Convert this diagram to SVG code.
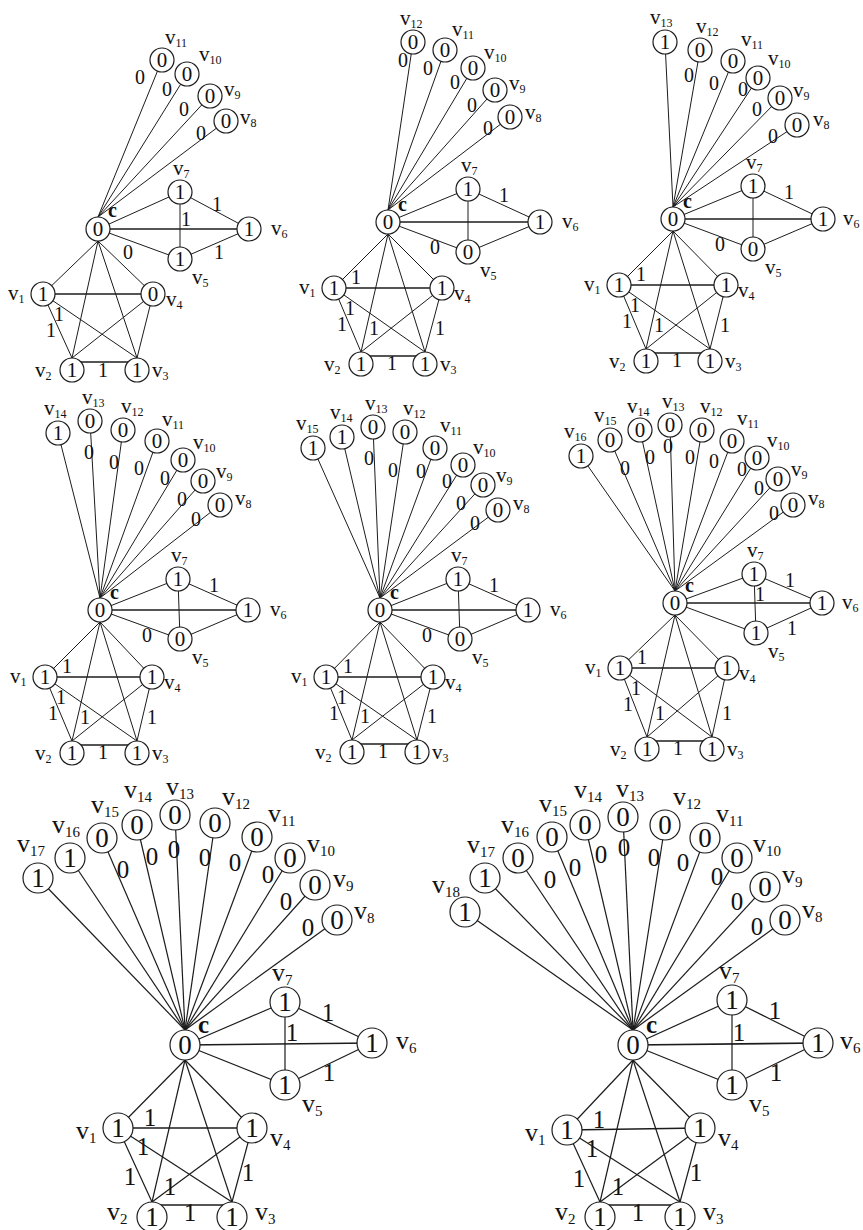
<svg xmlns="http://www.w3.org/2000/svg" width="863" height="1230" viewBox="0 0 863 1230">
<style>
.e line{stroke:#1c1c1c;stroke-width:1;fill:none}
.e2 line{stroke:#1c1c1c;stroke-width:1.2;fill:none}
.e line.b,.e2 line.b{stroke-width:1.7}
.n{fill:#fff;stroke:#1c1c1c;stroke-width:1.2}
text{font-family:"Liberation Serif","Times New Roman",serif;fill:#111}
.d{font-size:21px;text-anchor:middle}
.D{font-size:27px;text-anchor:middle}
.w{font-size:20px;text-anchor:middle}
.W{font-size:25px;text-anchor:middle}
.l{font-size:21px}
.L{font-size:26px}
.s{font-size:12px}
.S{font-size:15px}
.c{font-size:20px;font-weight:bold}
.C{font-size:25px;font-weight:bold}
</style>
<rect width="863" height="1230" fill="#fff"/>

<!-- ===== Panel 1 ===== -->
<g id="panel1">
<g id="p1-edges" class="e">
<line x1="162" y1="60" x2="98" y2="217"/><line x1="187" y1="74" x2="98" y2="217"/><line x1="210" y1="96" x2="98" y2="217"/><line x1="226" y1="121" x2="98" y2="217"/>
<line x1="98" y1="229" x2="180" y2="192"/><line class="b" x1="98" y1="229" x2="249" y2="229"/><line x1="98" y1="229" x2="180" y2="259"/>
<line x1="180" y1="192" x2="180" y2="259"/><line x1="180" y1="192" x2="249" y2="229"/><line x1="180" y1="259" x2="249" y2="229"/>
<line x1="98" y1="241" x2="43" y2="294"/><line x1="98" y1="241" x2="153" y2="294"/><line x1="98" y1="241" x2="72" y2="358"/><line x1="98" y1="241" x2="137" y2="358"/>
<line class="b" x1="43" y1="294" x2="153" y2="294"/><line x1="43" y1="294" x2="72" y2="358"/><line x1="43" y1="294" x2="137" y2="358"/><line x1="153" y1="294" x2="72" y2="358"/><line x1="153" y1="294" x2="137" y2="358"/>
<line class="b" x1="72" y1="362" x2="137" y2="362"/>
</g>
<g id="p1-weights">
<text class="w" x="140" y="84">0</text><text class="w" x="167" y="96">0</text><text class="w" x="184" y="116">0</text><text class="w" x="201" y="140">0</text>
<text class="w" x="186" y="226">1</text><text class="w" x="217" y="211">1</text><text class="w" x="219" y="259">1</text><text class="w" x="128" y="259">0</text>
<text class="w" x="59" y="321">1</text><text class="w" x="51" y="337">1</text><text class="w" x="103" y="377">1</text>
</g>
<g id="p1-c"><circle class="n" cx="98" cy="229" r="12"/><text class="d" x="98" y="236">0</text><text class="c" x="108" y="217">c</text></g>
<g id="p1-v1"><circle class="n" cx="43" cy="294" r="12"/><text class="d" x="43" y="301">1</text><text class="l" x="8" y="300">v<tspan class="s" dy="3">1</tspan></text></g>
<g id="p1-v2"><circle class="n" cx="72" cy="370" r="12"/><text class="d" x="72" y="377">1</text><text class="l" x="35" y="377">v<tspan class="s" dy="3">2</tspan></text></g>
<g id="p1-v3"><circle class="n" cx="137" cy="370" r="12"/><text class="d" x="137" y="377">1</text><text class="l" x="152" y="377">v<tspan class="s" dy="3">3</tspan></text></g>
<g id="p1-v4"><circle class="n" cx="153" cy="294" r="12"/><text class="d" x="153" y="301">0</text><text class="l" x="166" y="306">v<tspan class="s" dy="3">4</tspan></text></g>
<g id="p1-v5"><circle class="n" cx="180" cy="259" r="12"/><text class="d" x="180" y="266">1</text><text class="l" x="192" y="284">v<tspan class="s" dy="3">5</tspan></text></g>
<g id="p1-v6"><circle class="n" cx="249" cy="229" r="12"/><text class="d" x="249" y="236">1</text><text class="l" x="271" y="235">v<tspan class="s" dy="3">6</tspan></text></g>
<g id="p1-v7"><circle class="n" cx="180" cy="192" r="12"/><text class="d" x="180" y="199">1</text><text class="l" x="173" y="175">v<tspan class="s" dy="3">7</tspan></text></g>
<g id="p1-v8"><circle class="n" cx="226" cy="121" r="12"/><text class="d" x="226" y="128">0</text><text class="l" x="240" y="124">v<tspan class="s" dy="3">8</tspan></text></g>
<g id="p1-v9"><circle class="n" cx="210" cy="96" r="12"/><text class="d" x="210" y="103">0</text><text class="l" x="224" y="96">v<tspan class="s" dy="3">9</tspan></text></g>
<g id="p1-v10"><circle class="n" cx="187" cy="74" r="12"/><text class="d" x="187" y="81">0</text><text class="l" x="199" y="61">v<tspan class="s" dy="3">10</tspan></text></g>
<g id="p1-v11"><circle class="n" cx="162" cy="60" r="12"/><text class="d" x="162" y="67">0</text><text class="l" x="165" y="44">v<tspan class="s" dy="3">11</tspan></text></g>
</g>

<!-- ===== Panel 2 ===== -->
<g id="panel2">
<g id="p2-edges" class="e">
<line x1="413" y1="42" x2="388" y2="210"/><line x1="445" y1="50" x2="388" y2="210"/><line x1="473" y1="68" x2="388" y2="210"/><line x1="495" y1="90" x2="388" y2="210"/><line x1="510" y1="117" x2="388" y2="210"/>
<line x1="388" y1="222" x2="468" y2="189"/><line class="b" x1="388" y1="222" x2="540" y2="222"/><line x1="388" y1="222" x2="468" y2="252"/>
<line x1="468" y1="189" x2="468" y2="252"/><line x1="468" y1="189" x2="540" y2="222"/><line x1="468" y1="252" x2="540" y2="222"/>
<line x1="388" y1="234" x2="334" y2="288"/><line x1="388" y1="234" x2="442" y2="288"/><line x1="388" y1="234" x2="361" y2="352"/><line x1="388" y1="234" x2="425" y2="352"/>
<line class="b" x1="334" y1="288" x2="442" y2="288"/><line x1="334" y1="288" x2="361" y2="352"/><line x1="334" y1="288" x2="425" y2="352"/><line x1="442" y1="288" x2="361" y2="352"/><line x1="442" y1="288" x2="425" y2="352"/>
<line class="b" x1="361" y1="356" x2="425" y2="356"/>
</g>
<g id="p2-weights">
<text class="w" x="403" y="67">0</text><text class="w" x="428" y="75">0</text><text class="w" x="455" y="89">0</text><text class="w" x="472" y="112">0</text><text class="w" x="488" y="135">0</text>
<text class="w" x="435" y="254">0</text><text class="w" x="504" y="202">1</text>
<text class="w" x="356" y="284">1</text><text class="w" x="350" y="315">1</text><text class="w" x="342" y="331">1</text><text class="w" x="374" y="335">1</text><text class="w" x="440" y="335">1</text><text class="w" x="392" y="370">1</text>
</g>
<g id="p2-c"><circle class="n" cx="388" cy="222" r="12"/><text class="d" x="388" y="229">0</text><text class="c" x="398" y="211">c</text></g>
<g id="p2-v1"><circle class="n" cx="334" cy="288" r="12"/><text class="d" x="334" y="295">1</text><text class="l" x="299" y="294">v<tspan class="s" dy="3">1</tspan></text></g>
<g id="p2-v2"><circle class="n" cx="361" cy="364" r="12"/><text class="d" x="361" y="371">1</text><text class="l" x="324" y="371">v<tspan class="s" dy="3">2</tspan></text></g>
<g id="p2-v3"><circle class="n" cx="425" cy="364" r="12"/><text class="d" x="425" y="371">1</text><text class="l" x="440" y="371">v<tspan class="s" dy="3">3</tspan></text></g>
<g id="p2-v4"><circle class="n" cx="442" cy="288" r="12"/><text class="d" x="442" y="295">1</text><text class="l" x="454" y="300">v<tspan class="s" dy="3">4</tspan></text></g>
<g id="p2-v5"><circle class="n" cx="468" cy="252" r="12"/><text class="d" x="468" y="259">0</text><text class="l" x="480" y="277">v<tspan class="s" dy="3">5</tspan></text></g>
<g id="p2-v6"><circle class="n" cx="540" cy="222" r="12"/><text class="d" x="540" y="229">1</text><text class="l" x="562" y="228">v<tspan class="s" dy="3">6</tspan></text></g>
<g id="p2-v7"><circle class="n" cx="468" cy="189" r="12"/><text class="d" x="468" y="196">1</text><text class="l" x="461" y="172">v<tspan class="s" dy="3">7</tspan></text></g>
<g id="p2-v8"><circle class="n" cx="510" cy="117" r="12"/><text class="d" x="510" y="124">0</text><text class="l" x="525" y="119">v<tspan class="s" dy="3">8</tspan></text></g>
<g id="p2-v9"><circle class="n" cx="495" cy="90" r="12"/><text class="d" x="495" y="97">0</text><text class="l" x="509" y="90">v<tspan class="s" dy="3">9</tspan></text></g>
<g id="p2-v10"><circle class="n" cx="473" cy="68" r="12"/><text class="d" x="473" y="75">0</text><text class="l" x="484" y="59">v<tspan class="s" dy="3">10</tspan></text></g>
<g id="p2-v11"><circle class="n" cx="445" cy="50" r="12"/><text class="d" x="445" y="57">0</text><text class="l" x="452" y="36">v<tspan class="s" dy="3">11</tspan></text></g>
<g id="p2-v12"><circle class="n" cx="413" cy="42" r="12"/><text class="d" x="413" y="49">0</text><text class="l" x="400" y="25">v<tspan class="s" dy="3">12</tspan></text></g>
</g>

<!-- ===== Panel 3 ===== -->
<g id="panel3">
<g id="p3-edges" class="e">
<line x1="665" y1="42" x2="673" y2="207"/><line x1="700" y1="50" x2="673" y2="207"/><line x1="733" y1="61" x2="673" y2="207"/><line x1="758" y1="78" x2="673" y2="207"/><line x1="780" y1="98" x2="673" y2="207"/><line x1="797" y1="125" x2="673" y2="207"/>
<line x1="673" y1="219" x2="753" y2="186"/><line class="b" x1="673" y1="219" x2="823" y2="219"/><line x1="673" y1="219" x2="753" y2="249"/>
<line x1="753" y1="186" x2="753" y2="249"/><line x1="753" y1="186" x2="823" y2="219"/><line x1="753" y1="249" x2="823" y2="219"/>
<line x1="673" y1="231" x2="619" y2="285"/><line x1="673" y1="231" x2="726" y2="285"/><line x1="673" y1="231" x2="646" y2="349"/><line x1="673" y1="231" x2="710" y2="349"/>
<line class="b" x1="619" y1="285" x2="726" y2="285"/><line x1="619" y1="285" x2="646" y2="349"/><line x1="619" y1="285" x2="710" y2="349"/><line x1="726" y1="285" x2="646" y2="349"/><line x1="726" y1="285" x2="710" y2="349"/>
<line class="b" x1="646" y1="353" x2="710" y2="353"/>
</g>
<g id="p3-weights">
<text class="w" x="689" y="82">0</text><text class="w" x="714" y="90">0</text><text class="w" x="743" y="96">0</text><text class="w" x="757" y="116">0</text><text class="w" x="773" y="143">0</text>
<text class="w" x="720" y="251">0</text><text class="w" x="789" y="199">1</text>
<text class="w" x="641" y="281">1</text><text class="w" x="635" y="312">1</text><text class="w" x="627" y="328">1</text><text class="w" x="659" y="332">1</text><text class="w" x="725" y="332">1</text><text class="w" x="677" y="367">1</text>
</g>
<g id="p3-c"><circle class="n" cx="673" cy="219" r="12"/><text class="d" x="673" y="226">0</text><text class="c" x="683" y="208">c</text></g>
<g id="p3-v1"><circle class="n" cx="619" cy="285" r="12"/><text class="d" x="619" y="292">1</text><text class="l" x="584" y="291">v<tspan class="s" dy="3">1</tspan></text></g>
<g id="p3-v2"><circle class="n" cx="646" cy="361" r="12"/><text class="d" x="646" y="368">1</text><text class="l" x="609" y="368">v<tspan class="s" dy="3">2</tspan></text></g>
<g id="p3-v3"><circle class="n" cx="710" cy="361" r="12"/><text class="d" x="710" y="368">1</text><text class="l" x="725" y="368">v<tspan class="s" dy="3">3</tspan></text></g>
<g id="p3-v4"><circle class="n" cx="726" cy="285" r="12"/><text class="d" x="726" y="292">1</text><text class="l" x="738" y="297">v<tspan class="s" dy="3">4</tspan></text></g>
<g id="p3-v5"><circle class="n" cx="753" cy="249" r="12"/><text class="d" x="753" y="256">0</text><text class="l" x="765" y="274">v<tspan class="s" dy="3">5</tspan></text></g>
<g id="p3-v6"><circle class="n" cx="823" cy="219" r="12"/><text class="d" x="823" y="226">1</text><text class="l" x="843" y="225">v<tspan class="s" dy="3">6</tspan></text></g>
<g id="p3-v7"><circle class="n" cx="753" cy="186" r="12"/><text class="d" x="753" y="193">1</text><text class="l" x="746" y="169">v<tspan class="s" dy="3">7</tspan></text></g>
<g id="p3-v8"><circle class="n" cx="797" cy="125" r="12"/><text class="d" x="797" y="132">0</text><text class="l" x="813" y="126">v<tspan class="s" dy="3">8</tspan></text></g>
<g id="p3-v9"><circle class="n" cx="780" cy="98" r="12"/><text class="d" x="780" y="105">0</text><text class="l" x="793" y="97">v<tspan class="s" dy="3">9</tspan></text></g>
<g id="p3-v10"><circle class="n" cx="758" cy="78" r="12"/><text class="d" x="758" y="85">0</text><text class="l" x="768" y="65">v<tspan class="s" dy="3">10</tspan></text></g>
<g id="p3-v11"><circle class="n" cx="733" cy="61" r="12"/><text class="d" x="733" y="68">0</text><text class="l" x="741" y="46">v<tspan class="s" dy="3">11</tspan></text></g>
<g id="p3-v12"><circle class="n" cx="700" cy="50" r="12"/><text class="d" x="700" y="57">0</text><text class="l" x="696" y="33">v<tspan class="s" dy="3">12</tspan></text></g>
<g id="p3-v13"><circle class="n" cx="665" cy="42" r="12"/><text class="d" x="665" y="49">1</text><text class="l" x="650" y="24">v<tspan class="s" dy="3">13</tspan></text></g>
</g>

<!-- ===== Panel 4 ===== -->
<g id="panel4">
<g id="p4-edges" class="e">
<line x1="58" y1="433" x2="100" y2="598"/><line x1="90" y1="421" x2="100" y2="598"/><line x1="123" y1="430" x2="100" y2="598"/><line x1="157" y1="441" x2="100" y2="598"/><line x1="183" y1="460" x2="100" y2="598"/><line x1="203" y1="481" x2="100" y2="598"/><line x1="220" y1="505" x2="100" y2="598"/>
<line x1="100" y1="610" x2="178" y2="579"/><line class="b" x1="100" y1="610" x2="248" y2="610"/><line x1="100" y1="610" x2="180" y2="639"/>
<line x1="178" y1="579" x2="180" y2="639"/><line x1="178" y1="579" x2="248" y2="610"/><line x1="180" y1="639" x2="248" y2="610"/>
<line x1="100" y1="622" x2="45" y2="677"/><line x1="100" y1="622" x2="152" y2="677"/><line x1="100" y1="622" x2="72" y2="741"/><line x1="100" y1="622" x2="137" y2="741"/>
<line class="b" x1="45" y1="677" x2="152" y2="677"/><line x1="45" y1="677" x2="72" y2="741"/><line x1="45" y1="677" x2="137" y2="741"/><line x1="152" y1="677" x2="72" y2="741"/><line x1="152" y1="677" x2="137" y2="741"/>
<line class="b" x1="72" y1="745" x2="137" y2="745"/>
</g>
<g id="p4-weights">
<text class="w" x="89" y="459">0</text><text class="w" x="114" y="469">0</text><text class="w" x="139" y="475">0</text><text class="w" x="165" y="485">0</text><text class="w" x="182" y="506">0</text><text class="w" x="196" y="526">0</text>
<text class="w" x="147" y="642">0</text><text class="w" x="214" y="592">1</text>
<text class="w" x="67" y="673">1</text><text class="w" x="61" y="704">1</text><text class="w" x="53" y="720">1</text><text class="w" x="85" y="724">1</text><text class="w" x="152" y="724">1</text><text class="w" x="103" y="759">1</text>
</g>
<g id="p4-c"><circle class="n" cx="100" cy="610" r="12"/><text class="d" x="100" y="617">0</text><text class="c" x="110" y="599">c</text></g>
<g id="p4-v1"><circle class="n" cx="45" cy="677" r="12"/><text class="d" x="45" y="684">1</text><text class="l" x="10" y="683">v<tspan class="s" dy="3">1</tspan></text></g>
<g id="p4-v2"><circle class="n" cx="72" cy="753" r="12"/><text class="d" x="72" y="760">1</text><text class="l" x="35" y="760">v<tspan class="s" dy="3">2</tspan></text></g>
<g id="p4-v3"><circle class="n" cx="137" cy="753" r="12"/><text class="d" x="137" y="760">1</text><text class="l" x="152" y="760">v<tspan class="s" dy="3">3</tspan></text></g>
<g id="p4-v4"><circle class="n" cx="152" cy="677" r="12"/><text class="d" x="152" y="684">1</text><text class="l" x="164" y="689">v<tspan class="s" dy="3">4</tspan></text></g>
<g id="p4-v5"><circle class="n" cx="180" cy="639" r="12"/><text class="d" x="180" y="646">0</text><text class="l" x="192" y="664">v<tspan class="s" dy="3">5</tspan></text></g>
<g id="p4-v6"><circle class="n" cx="248" cy="610" r="12"/><text class="d" x="248" y="617">1</text><text class="l" x="270" y="616">v<tspan class="s" dy="3">6</tspan></text></g>
<g id="p4-v7"><circle class="n" cx="178" cy="579" r="12"/><text class="d" x="178" y="586">1</text><text class="l" x="171" y="562">v<tspan class="s" dy="3">7</tspan></text></g>
<g id="p4-v8"><circle class="n" cx="220" cy="505" r="12"/><text class="d" x="220" y="512">0</text><text class="l" x="235" y="505">v<tspan class="s" dy="3">8</tspan></text></g>
<g id="p4-v9"><circle class="n" cx="203" cy="481" r="12"/><text class="d" x="203" y="488">0</text><text class="l" x="216" y="478">v<tspan class="s" dy="3">9</tspan></text></g>
<g id="p4-v10"><circle class="n" cx="183" cy="460" r="12"/><text class="d" x="183" y="467">0</text><text class="l" x="193" y="449">v<tspan class="s" dy="3">10</tspan></text></g>
<g id="p4-v11"><circle class="n" cx="157" cy="441" r="12"/><text class="d" x="157" y="448">0</text><text class="l" x="162" y="426">v<tspan class="s" dy="3">11</tspan></text></g>
<g id="p4-v12"><circle class="n" cx="123" cy="430" r="12"/><text class="d" x="123" y="437">0</text><text class="l" x="121" y="413">v<tspan class="s" dy="3">12</tspan></text></g>
<g id="p4-v13"><circle class="n" cx="90" cy="421" r="12"/><text class="d" x="90" y="428">0</text><text class="l" x="82" y="404">v<tspan class="s" dy="3">13</tspan></text></g>
<g id="p4-v14"><circle class="n" cx="58" cy="433" r="12"/><text class="d" x="58" y="440">1</text><text class="l" x="44" y="415">v<tspan class="s" dy="3">14</tspan></text></g>
</g>

<!-- ===== Panel 5 ===== -->
<g id="panel5">
<g id="p5-edges" class="e">
<line x1="313" y1="448" x2="380" y2="598"/><line x1="342" y1="437" x2="380" y2="598"/><line x1="373" y1="427" x2="380" y2="598"/><line x1="405" y1="432" x2="380" y2="598"/><line x1="435" y1="448" x2="380" y2="598"/><line x1="463" y1="465" x2="380" y2="598"/><line x1="483" y1="485" x2="380" y2="598"/><line x1="498" y1="510" x2="380" y2="598"/>
<line x1="380" y1="610" x2="458" y2="579"/><line class="b" x1="380" y1="610" x2="528" y2="610"/><line x1="380" y1="610" x2="460" y2="639"/>
<line x1="458" y1="579" x2="460" y2="639"/><line x1="458" y1="579" x2="528" y2="610"/><line x1="460" y1="639" x2="528" y2="610"/>
<line x1="380" y1="622" x2="326" y2="677"/><line x1="380" y1="622" x2="433" y2="677"/><line x1="380" y1="622" x2="352" y2="740"/><line x1="380" y1="622" x2="417" y2="740"/>
<line class="b" x1="326" y1="677" x2="433" y2="677"/><line x1="326" y1="677" x2="352" y2="740"/><line x1="326" y1="677" x2="417" y2="740"/><line x1="433" y1="677" x2="352" y2="740"/><line x1="433" y1="677" x2="417" y2="740"/>
<line class="b" x1="352" y1="744" x2="417" y2="744"/>
</g>
<g id="p5-weights">
<text class="w" x="369" y="465">0</text><text class="w" x="393" y="477">0</text><text class="w" x="421" y="478">0</text><text class="w" x="447" y="488">0</text><text class="w" x="461" y="510">0</text><text class="w" x="475" y="530">0</text>
<text class="w" x="427" y="642">0</text><text class="w" x="494" y="592">1</text>
<text class="w" x="348" y="673">1</text><text class="w" x="342" y="704">1</text><text class="w" x="334" y="720">1</text><text class="w" x="365" y="723">1</text><text class="w" x="432" y="723">1</text><text class="w" x="383" y="758">1</text>
</g>
<g id="p5-c"><circle class="n" cx="380" cy="610" r="12"/><text class="d" x="380" y="617">0</text><text class="c" x="390" y="599">c</text></g>
<g id="p5-v1"><circle class="n" cx="326" cy="677" r="12"/><text class="d" x="326" y="684">1</text><text class="l" x="291" y="683">v<tspan class="s" dy="3">1</tspan></text></g>
<g id="p5-v2"><circle class="n" cx="352" cy="752" r="12"/><text class="d" x="352" y="759">1</text><text class="l" x="315" y="759">v<tspan class="s" dy="3">2</tspan></text></g>
<g id="p5-v3"><circle class="n" cx="417" cy="752" r="12"/><text class="d" x="417" y="759">1</text><text class="l" x="432" y="759">v<tspan class="s" dy="3">3</tspan></text></g>
<g id="p5-v4"><circle class="n" cx="433" cy="677" r="12"/><text class="d" x="433" y="684">1</text><text class="l" x="445" y="689">v<tspan class="s" dy="3">4</tspan></text></g>
<g id="p5-v5"><circle class="n" cx="460" cy="639" r="12"/><text class="d" x="460" y="646">0</text><text class="l" x="472" y="664">v<tspan class="s" dy="3">5</tspan></text></g>
<g id="p5-v6"><circle class="n" cx="528" cy="610" r="12"/><text class="d" x="528" y="617">1</text><text class="l" x="550" y="616">v<tspan class="s" dy="3">6</tspan></text></g>
<g id="p5-v7"><circle class="n" cx="458" cy="579" r="12"/><text class="d" x="458" y="586">1</text><text class="l" x="451" y="562">v<tspan class="s" dy="3">7</tspan></text></g>
<g id="p5-v8"><circle class="n" cx="498" cy="510" r="12"/><text class="d" x="498" y="517">0</text><text class="l" x="513" y="510">v<tspan class="s" dy="3">8</tspan></text></g>
<g id="p5-v9"><circle class="n" cx="483" cy="485" r="12"/><text class="d" x="483" y="492">0</text><text class="l" x="496" y="482">v<tspan class="s" dy="3">9</tspan></text></g>
<g id="p5-v10"><circle class="n" cx="463" cy="465" r="12"/><text class="d" x="463" y="472">0</text><text class="l" x="473" y="454">v<tspan class="s" dy="3">10</tspan></text></g>
<g id="p5-v11"><circle class="n" cx="435" cy="448" r="12"/><text class="d" x="435" y="455">0</text><text class="l" x="440" y="432">v<tspan class="s" dy="3">11</tspan></text></g>
<g id="p5-v12"><circle class="n" cx="405" cy="432" r="12"/><text class="d" x="405" y="439">0</text><text class="l" x="403" y="415">v<tspan class="s" dy="3">12</tspan></text></g>
<g id="p5-v13"><circle class="n" cx="373" cy="427" r="12"/><text class="d" x="373" y="434">0</text><text class="l" x="365" y="410">v<tspan class="s" dy="3">13</tspan></text></g>
<g id="p5-v14"><circle class="n" cx="342" cy="437" r="12"/><text class="d" x="342" y="444">1</text><text class="l" x="330" y="419">v<tspan class="s" dy="3">14</tspan></text></g>
<g id="p5-v15"><circle class="n" cx="313" cy="448" r="12"/><text class="d" x="313" y="455">1</text><text class="l" x="296" y="430">v<tspan class="s" dy="3">15</tspan></text></g>
</g>

<!-- ===== Panel 6 ===== -->
<g id="panel6">
<g id="p6-edges" class="e">
<line x1="581" y1="456" x2="675" y2="591"/><line x1="610" y1="440" x2="675" y2="591"/><line x1="640" y1="430" x2="675" y2="591"/><line x1="670" y1="425" x2="675" y2="591"/><line x1="702" y1="430" x2="675" y2="591"/><line x1="732" y1="441" x2="675" y2="591"/><line x1="757" y1="458" x2="675" y2="591"/><line x1="778" y1="479" x2="675" y2="591"/><line x1="793" y1="505" x2="675" y2="591"/>
<line x1="675" y1="603" x2="754" y2="574"/><line class="b" x1="675" y1="603" x2="822" y2="603"/><line x1="675" y1="603" x2="756" y2="633"/>
<line x1="754" y1="574" x2="756" y2="633"/><line x1="754" y1="574" x2="822" y2="603"/><line x1="756" y1="633" x2="822" y2="603"/>
<line x1="675" y1="615" x2="620" y2="668"/><line x1="675" y1="615" x2="727" y2="668"/><line x1="675" y1="615" x2="647" y2="737"/><line x1="675" y1="615" x2="712" y2="737"/>
<line class="b" x1="620" y1="668" x2="727" y2="668"/><line x1="620" y1="668" x2="647" y2="737"/><line x1="620" y1="668" x2="712" y2="737"/><line x1="727" y1="668" x2="647" y2="737"/><line x1="727" y1="668" x2="712" y2="737"/>
<line class="b" x1="647" y1="741" x2="712" y2="741"/>
</g>
<g id="p6-weights">
<text class="w" x="625" y="475">0</text><text class="w" x="650" y="464">0</text><text class="w" x="668" y="453">0</text><text class="w" x="690" y="464">0</text><text class="w" x="714" y="468">0</text><text class="w" x="742" y="476">0</text><text class="w" x="759" y="495">0</text><text class="w" x="774" y="520">0</text>
<text class="w" x="760" y="601">1</text><text class="w" x="790" y="587">1</text><text class="w" x="792" y="635">1</text>
<text class="w" x="642" y="664">1</text><text class="w" x="636" y="695">1</text><text class="w" x="628" y="711">1</text><text class="w" x="660" y="720">1</text><text class="w" x="727" y="720">1</text><text class="w" x="678" y="755">1</text>
</g>
<g id="p6-c"><circle class="n" cx="675" cy="603" r="12"/><text class="d" x="675" y="610">0</text><text class="c" x="685" y="592">c</text></g>
<g id="p6-v1"><circle class="n" cx="620" cy="668" r="12"/><text class="d" x="620" y="675">1</text><text class="l" x="585" y="674">v<tspan class="s" dy="3">1</tspan></text></g>
<g id="p6-v2"><circle class="n" cx="647" cy="749" r="12"/><text class="d" x="647" y="756">1</text><text class="l" x="610" y="756">v<tspan class="s" dy="3">2</tspan></text></g>
<g id="p6-v3"><circle class="n" cx="712" cy="749" r="12"/><text class="d" x="712" y="756">1</text><text class="l" x="727" y="756">v<tspan class="s" dy="3">3</tspan></text></g>
<g id="p6-v4"><circle class="n" cx="727" cy="668" r="12"/><text class="d" x="727" y="675">1</text><text class="l" x="739" y="680">v<tspan class="s" dy="3">4</tspan></text></g>
<g id="p6-v5"><circle class="n" cx="756" cy="633" r="12"/><text class="d" x="756" y="640">1</text><text class="l" x="768" y="658">v<tspan class="s" dy="3">5</tspan></text></g>
<g id="p6-v6"><circle class="n" cx="822" cy="603" r="12"/><text class="d" x="822" y="610">1</text><text class="l" x="842" y="609">v<tspan class="s" dy="3">6</tspan></text></g>
<g id="p6-v7"><circle class="n" cx="754" cy="574" r="12"/><text class="d" x="754" y="581">1</text><text class="l" x="747" y="557">v<tspan class="s" dy="3">7</tspan></text></g>
<g id="p6-v8"><circle class="n" cx="793" cy="505" r="12"/><text class="d" x="793" y="512">0</text><text class="l" x="808" y="505">v<tspan class="s" dy="3">8</tspan></text></g>
<g id="p6-v9"><circle class="n" cx="778" cy="479" r="12"/><text class="d" x="778" y="486">0</text><text class="l" x="791" y="476">v<tspan class="s" dy="3">9</tspan></text></g>
<g id="p6-v10"><circle class="n" cx="757" cy="458" r="12"/><text class="d" x="757" y="465">0</text><text class="l" x="767" y="447">v<tspan class="s" dy="3">10</tspan></text></g>
<g id="p6-v11"><circle class="n" cx="732" cy="441" r="12"/><text class="d" x="732" y="448">0</text><text class="l" x="737" y="425">v<tspan class="s" dy="3">11</tspan></text></g>
<g id="p6-v12"><circle class="n" cx="702" cy="430" r="12"/><text class="d" x="702" y="437">0</text><text class="l" x="700" y="413">v<tspan class="s" dy="3">12</tspan></text></g>
<g id="p6-v13"><circle class="n" cx="670" cy="425" r="12"/><text class="d" x="670" y="432">0</text><text class="l" x="662" y="408">v<tspan class="s" dy="3">13</tspan></text></g>
<g id="p6-v14"><circle class="n" cx="640" cy="430" r="12"/><text class="d" x="640" y="437">0</text><text class="l" x="627" y="413">v<tspan class="s" dy="3">14</tspan></text></g>
<g id="p6-v15"><circle class="n" cx="610" cy="440" r="12"/><text class="d" x="610" y="447">0</text><text class="l" x="594" y="422">v<tspan class="s" dy="3">15</tspan></text></g>
<g id="p6-v16"><circle class="n" cx="581" cy="456" r="12"/><text class="d" x="581" y="463">1</text><text class="l" x="564" y="438">v<tspan class="s" dy="3">16</tspan></text></g>
</g>

<!-- ===== Panel 7 ===== -->
<g id="panel7">
<g id="p7-edges" class="e2">
<line x1="38" y1="878" x2="185" y2="1030"/><line x1="70" y1="858" x2="185" y2="1030"/><line x1="102" y1="838" x2="185" y2="1030"/><line x1="137" y1="825" x2="185" y2="1030"/><line x1="175" y1="815" x2="185" y2="1030"/><line x1="215" y1="823" x2="185" y2="1030"/><line x1="257" y1="837" x2="185" y2="1030"/><line x1="290" y1="858" x2="185" y2="1030"/><line x1="315" y1="885" x2="185" y2="1030"/><line x1="337" y1="920" x2="185" y2="1030"/>
<line x1="185" y1="1045" x2="285" y2="1002"/><line class="b" x1="185" y1="1045" x2="372" y2="1043"/><line x1="185" y1="1045" x2="285" y2="1085"/>
<line x1="285" y1="1002" x2="285" y2="1085"/><line x1="285" y1="1002" x2="372" y2="1043"/><line x1="285" y1="1085" x2="372" y2="1043"/>
<line x1="185" y1="1060" x2="118" y2="1128"/><line x1="185" y1="1060" x2="252" y2="1128"/><line x1="185" y1="1060" x2="152" y2="1202"/><line x1="185" y1="1060" x2="232" y2="1202"/>
<line class="b" x1="118" y1="1128" x2="252" y2="1128"/><line x1="118" y1="1128" x2="152" y2="1202"/><line x1="118" y1="1128" x2="232" y2="1202"/><line x1="252" y1="1128" x2="152" y2="1202"/><line x1="252" y1="1128" x2="232" y2="1202"/>
<line class="b" x1="152" y1="1205" x2="232" y2="1205"/>
</g>
<g id="p7-weights">
<text class="W" x="123" y="878">0</text><text class="W" x="152" y="865">0</text><text class="W" x="174" y="858">0</text><text class="W" x="205" y="866">0</text><text class="W" x="235" y="871">0</text><text class="W" x="268" y="883">0</text><text class="W" x="286" y="910">0</text><text class="W" x="308" y="936">0</text>
<text class="W" x="292" y="1041">1</text><text class="W" x="328" y="1021">1</text><text class="W" x="329" y="1081">1</text>
<text class="W" x="150" y="1126">1</text><text class="W" x="143" y="1155">1</text><text class="W" x="130" y="1185">1</text><text class="W" x="170" y="1195">1</text><text class="W" x="248" y="1181">1</text><text class="W" x="190" y="1221">1</text>
</g>
<g id="p7-c"><circle class="n" cx="185" cy="1045" r="15"/><text class="D" x="185" y="1054">0</text><text class="C" x="198" y="1033">c</text></g>
<g id="p7-v1"><circle class="n" cx="118" cy="1128" r="15"/><text class="D" x="118" y="1137">1</text><text class="L" x="76" y="1139">v<tspan class="S" dy="4">1</tspan></text></g>
<g id="p7-v2"><circle class="n" cx="152" cy="1217" r="15"/><text class="D" x="152" y="1226">1</text><text class="L" x="107" y="1220">v<tspan class="S" dy="4">2</tspan></text></g>
<g id="p7-v3"><circle class="n" cx="232" cy="1217" r="15"/><text class="D" x="232" y="1226">1</text><text class="L" x="255" y="1220">v<tspan class="S" dy="4">3</tspan></text></g>
<g id="p7-v4"><circle class="n" cx="252" cy="1128" r="15"/><text class="D" x="252" y="1137">1</text><text class="L" x="270" y="1146">v<tspan class="S" dy="4">4</tspan></text></g>
<g id="p7-v5"><circle class="n" cx="285" cy="1085" r="15"/><text class="D" x="285" y="1094">1</text><text class="L" x="302" y="1112">v<tspan class="S" dy="4">5</tspan></text></g>
<g id="p7-v6"><circle class="n" cx="372" cy="1043" r="15"/><text class="D" x="372" y="1052">1</text><text class="L" x="396" y="1049">v<tspan class="S" dy="4">6</tspan></text></g>
<g id="p7-v7"><circle class="n" cx="285" cy="1002" r="15"/><text class="D" x="285" y="1011">1</text><text class="L" x="272" y="981">v<tspan class="S" dy="4">7</tspan></text></g>
<g id="p7-v8"><circle class="n" cx="337" cy="920" r="15"/><text class="D" x="337" y="929">0</text><text class="L" x="354" y="919">v<tspan class="S" dy="4">8</tspan></text></g>
<g id="p7-v9"><circle class="n" cx="315" cy="885" r="15"/><text class="D" x="315" y="894">0</text><text class="L" x="333" y="887">v<tspan class="S" dy="4">9</tspan></text></g>
<g id="p7-v10"><circle class="n" cx="290" cy="858" r="15"/><text class="D" x="290" y="867">0</text><text class="L" x="307" y="852">v<tspan class="S" dy="4">10</tspan></text></g>
<g id="p7-v11"><circle class="n" cx="257" cy="837" r="15"/><text class="D" x="257" y="846">0</text><text class="L" x="268" y="822">v<tspan class="S" dy="4">11</tspan></text></g>
<g id="p7-v12"><circle class="n" cx="215" cy="823" r="15"/><text class="D" x="215" y="832">0</text><text class="L" x="222" y="805">v<tspan class="S" dy="4">12</tspan></text></g>
<g id="p7-v13"><circle class="n" cx="175" cy="815" r="15"/><text class="D" x="175" y="824">0</text><text class="L" x="166" y="795">v<tspan class="S" dy="4">13</tspan></text></g>
<g id="p7-v14"><circle class="n" cx="137" cy="825" r="15"/><text class="D" x="137" y="834">0</text><text class="L" x="124" y="798">v<tspan class="S" dy="4">14</tspan></text></g>
<g id="p7-v15"><circle class="n" cx="102" cy="838" r="15"/><text class="D" x="102" y="847">0</text><text class="L" x="91" y="813">v<tspan class="S" dy="4">15</tspan></text></g>
<g id="p7-v16"><circle class="n" cx="70" cy="858" r="15"/><text class="D" x="70" y="867">1</text><text class="L" x="52" y="833">v<tspan class="S" dy="4">16</tspan></text></g>
<g id="p7-v17"><circle class="n" cx="38" cy="878" r="15"/><text class="D" x="38" y="887">1</text><text class="L" x="17" y="852">v<tspan class="S" dy="4">17</tspan></text></g>
</g>

<!-- ===== Panel 8 ===== -->
<g id="panel8">
<g id="p8-edges" class="e2">
<line x1="465" y1="912" x2="633" y2="1030"/><line x1="485" y1="878" x2="633" y2="1030"/><line x1="518" y1="858" x2="633" y2="1030"/><line x1="552" y1="837" x2="633" y2="1030"/><line x1="585" y1="825" x2="633" y2="1030"/><line x1="623" y1="817" x2="633" y2="1030"/><line x1="665" y1="825" x2="633" y2="1030"/><line x1="705" y1="838" x2="633" y2="1030"/><line x1="737" y1="858" x2="633" y2="1030"/><line x1="765" y1="887" x2="633" y2="1030"/><line x1="785" y1="920" x2="633" y2="1030"/>
<line x1="633" y1="1045" x2="732" y2="1000"/><line class="b" x1="633" y1="1045" x2="818" y2="1043"/><line x1="633" y1="1045" x2="732" y2="1085"/>
<line x1="732" y1="1000" x2="732" y2="1085"/><line x1="732" y1="1000" x2="818" y2="1043"/><line x1="732" y1="1085" x2="818" y2="1043"/>
<line x1="633" y1="1060" x2="567" y2="1130"/><line x1="633" y1="1060" x2="700" y2="1128"/><line x1="633" y1="1060" x2="600" y2="1202"/><line x1="633" y1="1060" x2="680" y2="1202"/>
<line class="b" x1="567" y1="1130" x2="700" y2="1128"/><line x1="567" y1="1130" x2="600" y2="1202"/><line x1="567" y1="1130" x2="680" y2="1202"/><line x1="700" y1="1128" x2="600" y2="1202"/><line x1="700" y1="1128" x2="680" y2="1202"/>
<line class="b" x1="600" y1="1205" x2="680" y2="1205"/>
</g>
<g id="p8-weights">
<text class="W" x="550" y="888">0</text><text class="W" x="575" y="876">0</text><text class="W" x="601" y="863">0</text><text class="W" x="624" y="856">0</text><text class="W" x="654" y="866">0</text><text class="W" x="683" y="871">0</text><text class="W" x="717" y="885">0</text><text class="W" x="737" y="910">0</text><text class="W" x="757" y="935">0</text>
<text class="W" x="739" y="1041">1</text><text class="W" x="775" y="1019">1</text><text class="W" x="776" y="1081">1</text>
<text class="W" x="599" y="1128">1</text><text class="W" x="592" y="1157">1</text><text class="W" x="579" y="1187">1</text><text class="W" x="618" y="1195">1</text><text class="W" x="696" y="1181">1</text><text class="W" x="638" y="1221">1</text>
</g>
<g id="p8-c"><circle class="n" cx="633" cy="1045" r="15"/><text class="D" x="633" y="1054">0</text><text class="C" x="646" y="1033">c</text></g>
<g id="p8-v1"><circle class="n" cx="567" cy="1130" r="15"/><text class="D" x="567" y="1139">1</text><text class="L" x="525" y="1141">v<tspan class="S" dy="4">1</tspan></text></g>
<g id="p8-v2"><circle class="n" cx="600" cy="1217" r="15"/><text class="D" x="600" y="1226">1</text><text class="L" x="555" y="1220">v<tspan class="S" dy="4">2</tspan></text></g>
<g id="p8-v3"><circle class="n" cx="680" cy="1217" r="15"/><text class="D" x="680" y="1226">1</text><text class="L" x="703" y="1220">v<tspan class="S" dy="4">3</tspan></text></g>
<g id="p8-v4"><circle class="n" cx="700" cy="1128" r="15"/><text class="D" x="700" y="1137">1</text><text class="L" x="718" y="1146">v<tspan class="S" dy="4">4</tspan></text></g>
<g id="p8-v5"><circle class="n" cx="732" cy="1085" r="15"/><text class="D" x="732" y="1094">1</text><text class="L" x="749" y="1112">v<tspan class="S" dy="4">5</tspan></text></g>
<g id="p8-v6"><circle class="n" cx="818" cy="1043" r="15"/><text class="D" x="818" y="1052">1</text><text class="L" x="840" y="1049">v<tspan class="S" dy="4">6</tspan></text></g>
<g id="p8-v7"><circle class="n" cx="732" cy="1000" r="15"/><text class="D" x="732" y="1009">1</text><text class="L" x="719" y="979">v<tspan class="S" dy="4">7</tspan></text></g>
<g id="p8-v8"><circle class="n" cx="785" cy="920" r="15"/><text class="D" x="785" y="929">0</text><text class="L" x="802" y="918">v<tspan class="S" dy="4">8</tspan></text></g>
<g id="p8-v9"><circle class="n" cx="765" cy="887" r="15"/><text class="D" x="765" y="896">0</text><text class="L" x="782" y="883">v<tspan class="S" dy="4">9</tspan></text></g>
<g id="p8-v10"><circle class="n" cx="737" cy="858" r="15"/><text class="D" x="737" y="867">0</text><text class="L" x="753" y="852">v<tspan class="S" dy="4">10</tspan></text></g>
<g id="p8-v11"><circle class="n" cx="705" cy="838" r="15"/><text class="D" x="705" y="847">0</text><text class="L" x="716" y="822">v<tspan class="S" dy="4">11</tspan></text></g>
<g id="p8-v12"><circle class="n" cx="665" cy="825" r="15"/><text class="D" x="665" y="834">0</text><text class="L" x="673" y="805">v<tspan class="S" dy="4">12</tspan></text></g>
<g id="p8-v13"><circle class="n" cx="623" cy="817" r="15"/><text class="D" x="623" y="826">0</text><text class="L" x="616" y="797">v<tspan class="S" dy="4">13</tspan></text></g>
<g id="p8-v14"><circle class="n" cx="585" cy="825" r="15"/><text class="D" x="585" y="834">0</text><text class="L" x="574" y="798">v<tspan class="S" dy="4">14</tspan></text></g>
<g id="p8-v15"><circle class="n" cx="552" cy="837" r="15"/><text class="D" x="552" y="846">0</text><text class="L" x="539" y="812">v<tspan class="S" dy="4">15</tspan></text></g>
<g id="p8-v16"><circle class="n" cx="518" cy="858" r="15"/><text class="D" x="518" y="867">0</text><text class="L" x="501" y="833">v<tspan class="S" dy="4">16</tspan></text></g>
<g id="p8-v17"><circle class="n" cx="485" cy="878" r="15"/><text class="D" x="485" y="887">1</text><text class="L" x="467" y="853">v<tspan class="S" dy="4">17</tspan></text></g>
<g id="p8-v18"><circle class="n" cx="465" cy="912" r="15"/><text class="D" x="465" y="921">1</text><text class="L" x="432" y="893">v<tspan class="S" dy="4">18</tspan></text></g>
</g>
</svg>
